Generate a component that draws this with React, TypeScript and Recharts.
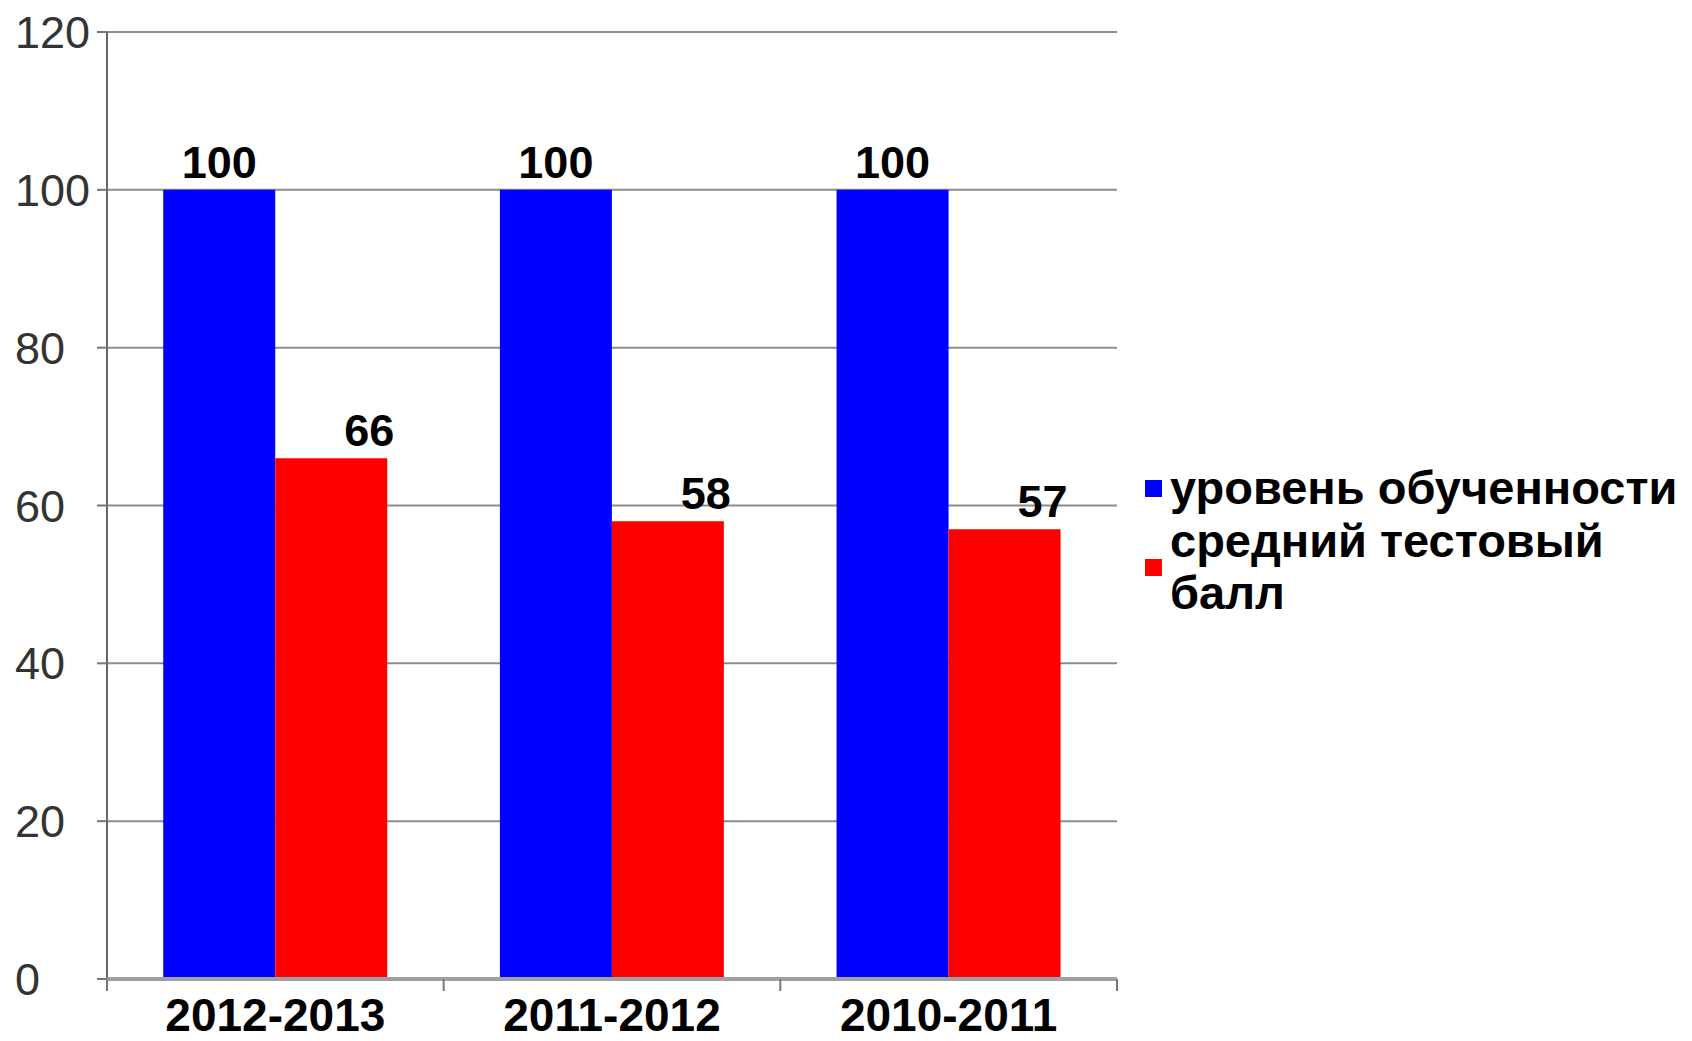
import React from "react";
import { BarChart, Bar, XAxis, YAxis, CartesianGrid, LabelList } from "recharts";

const categories = ["2012-2013", "2011-2012", "2010-2011"];
const levelValues = [100, 100, 100];
const scoreValues = [66, 58, 57];
const yTicks = [0, 20, 40, 60, 80, 100, 120];
const seriesNames = ["уровень обученности", "средний тестовый балл"];
const seriesColors = ["#0000FF", "#FF0000"];

const data = categories.map((c, i) => ({ name: c, level: levelValues[i], score: scoreValues[i] }));

const W = 1692;
const H = 1041;
const M = { top: 32, right: 575, bottom: 0, left: 0 };
const Y_W = 107;
const X_H = 62;
const FONT = "'Liberation Sans', Arial, Helvetica, sans-serif";
const plotW = W - M.left - M.right - Y_W;
const band = plotW / categories.length;

const XTick = (props: any) => {
  const { x, y, payload, index } = props;
  const left = x - band / 2;
  const right = x + band / 2;
  return (
    <g>
      <line x1={left} y1={y - 8} x2={left} y2={y + 4} stroke="#777" strokeWidth={2} />
      {index === categories.length - 1 && (
        <line x1={right} y1={y - 8} x2={right} y2={y + 4} stroke="#777" strokeWidth={2} />
      )}
      <text x={x} y={y + 44} textAnchor="middle" fontFamily={FONT} fontWeight="bold" fontSize={46} fill="#000">
        {payload.value}
      </text>
    </g>
  );
};

const YTick = (props: any) => {
  const { y, payload } = props;
  return (
    <text x={15} y={y + 16} textAnchor="start" fontFamily={FONT} fontSize={45} fill="#333">
      {payload.value}
    </text>
  );
};

const labelStyle = { fontFamily: FONT, fontWeight: "bold" as const, fontSize: 45, fill: "#000" };

export default function App() {
  return (
    <div style={{ position: "absolute", left: 0, top: 0, width: W, height: H, background: "#fff" }}>
      <BarChart width={W} height={H} data={data} margin={M} barCategoryGap="16.7%" barGap={0}>
        <CartesianGrid vertical={false} stroke="#8c8c8c" strokeWidth={2} />
        <YAxis
          width={Y_W}
          domain={[0, 120]}
          ticks={yTicks}
          interval={0}
          tick={<YTick />}
          tickSize={10}
          tickLine={{ stroke: "#777", strokeWidth: 2 }}
          axisLine={{ stroke: "#666", strokeWidth: 2 }}
        />
        <XAxis
          dataKey="name"
          height={X_H}
          tick={<XTick />}
          tickLine={false}
          interval={0}
          axisLine={{ stroke: "#a0a0a0", strokeWidth: 4 }}
        />
        <Bar dataKey="level" name={seriesNames[0]} fill={seriesColors[0]} isAnimationActive={false}>
          <LabelList dataKey="level" position="top" offset={12} style={labelStyle} />
        </Bar>
        <Bar dataKey="score" name={seriesNames[1]} fill={seriesColors[1]} isAnimationActive={false}>
          <LabelList dataKey="score" position="top" offset={12} dx={38} style={labelStyle} />
        </Bar>
      </BarChart>
      <div style={{ position: "absolute", left: 1145, top: 462, fontFamily: FONT, fontWeight: "bold", fontSize: 47, lineHeight: "52.5px", color: "#000" }}>
        {seriesNames.map((n, i) => (
          <div key={n} style={{ display: "flex", alignItems: "center" }}>
            <div style={{ width: 17, height: 17, background: seriesColors[i], marginRight: 8, flex: "none" }} />
            <div style={{ width: 520 }}>{n}</div>
          </div>
        ))}
      </div>
    </div>
  );
}
